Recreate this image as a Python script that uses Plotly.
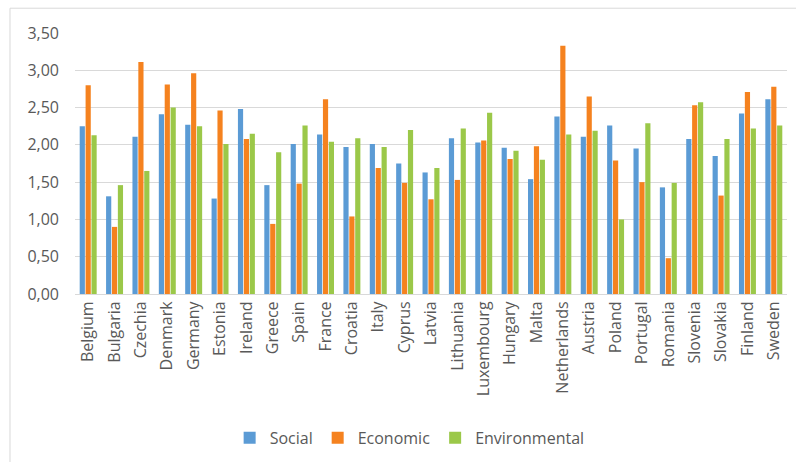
import plotly.graph_objects as go

countries = ["Belgium", "Bulgaria", "Czechia", "Denmark", "Germany", "Estonia", "Ireland",
             "Greece", "Spain", "France", "Croatia", "Italy", "Cyprus", "Latvia", "Lithuania",
             "Luxembourg", "Hungary", "Malta", "Netherlands", "Austria", "Poland", "Portugal",
             "Romania", "Slovenia", "Slovakia", "Finland", "Sweden"]

social = [2.25, 1.31, 2.11, 2.41, 2.27, 1.28, 2.48, 1.46, 2.01, 2.14, 1.97, 2.01, 1.75, 1.63,
          2.09, 2.03, 1.96, 1.54, 2.38, 2.11, 2.26, 1.95, 1.43, 2.08, 1.85, 2.42, 2.61]
economic = [2.80, 0.90, 3.11, 2.81, 2.96, 2.46, 2.08, 0.94, 1.48, 2.61, 1.04, 1.69, 1.49, 1.27,
            1.53, 2.06, 1.81, 1.98, 3.33, 2.65, 1.79, 1.50, 0.48, 2.53, 1.32, 2.71, 2.78]
environmental = [2.13, 1.46, 1.65, 2.50, 2.25, 2.01, 2.15, 1.90, 2.26, 2.04, 2.09, 1.97, 2.20, 1.69,
                 2.22, 2.43, 1.92, 1.80, 2.14, 2.19, 1.00, 2.29, 1.49, 2.57, 2.08, 2.22, 2.26]

series = [("Social", social, "#5B9BD5"),
          ("Economic", economic, "#F5821F"),
          ("Environmental", environmental, "#9BC849")]

fig = go.Figure()
for name, vals, col in series:
    fig.add_trace(go.Bar(x=countries, y=vals, name=name, marker_color=col,
                         marker_line_width=0))

FONT = "Open Sans"
TXT = "#595959"
FS = 16

fig.update_layout(
    barmode="group",
    bargap=0.33,
    bargroupgap=0.12,
    width=796, height=462,
    margin=dict(l=75, r=9, t=33, b=167),
    paper_bgcolor="white",
    plot_bgcolor="white",
    separators=",.",
    font=dict(family=FONT, size=FS, color=TXT),
    xaxis=dict(tickangle=-90, showgrid=False, showline=True, linecolor="#D9D9D9",
               linewidth=1, ticks="", tickfont=dict(size=FS, color=TXT)),
    yaxis=dict(range=[0, 3.5], dtick=0.5, tickformat=".2f", showgrid=True,
               gridcolor="#D9D9D9", gridwidth=1, zeroline=False, showline=False,
               ticks="", ticklabelstandoff=15, tickfont=dict(size=FS, color=TXT)),
    legend=dict(orientation="h", x=0.47, xanchor="center", y=-0.48, yanchor="top",
                font=dict(size=FS, color=TXT), itemwidth=30, tracegroupgap=0),
    shapes=[dict(type="rect", xref="paper", yref="paper",
                 x0=-0.0913, x1=1.03, y0=-0.7, y1=1.095,
                 line=dict(color="#D9D9D9", width=1), fillcolor="rgba(0,0,0,0)",
                 layer="below")],
)

fig.write_html("out.html")
